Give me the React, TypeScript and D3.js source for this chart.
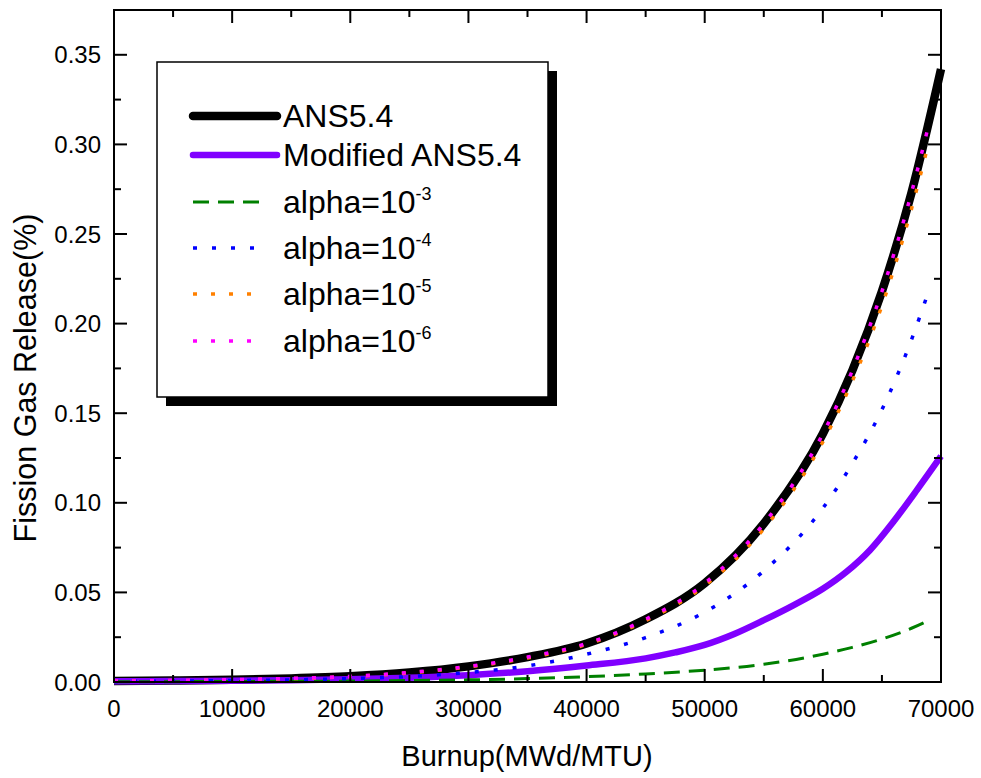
import React from "react";
import * as d3 from "d3";

// burnup grid (MWd/MTU)
const burnup = [0, 5000, 10000, 15000, 20000, 25000, 30000, 35000, 40000, 45000, 50000, 55000, 60000, 62500, 65000, 67500, 70000];
const burnupAlpha = [0, 5000, 10000, 15000, 20000, 25000, 30000, 35000, 40000, 45000, 50000, 55000, 60000, 62500, 65000, 67500, 69000];
const burnupMod = [0, 5000, 10000, 15000, 20000, 25000, 30000, 35000, 40000, 45000, 47500, 50000, 52500, 55000, 57500, 60000, 62000, 64000, 66000, 68000, 70000];

const ans54 = [0.0005, 0.0008, 0.0013, 0.002, 0.0032, 0.0053, 0.0087, 0.0139, 0.0215, 0.035, 0.0551, 0.0884, 0.1385, 0.1739, 0.218, 0.273, 0.342];
const modifiedAns = [0.0004, 0.0005, 0.0007, 0.001, 0.0015, 0.0024, 0.0038, 0.006, 0.0092, 0.0132, 0.0165, 0.0207, 0.0268, 0.0345, 0.0428, 0.052, 0.0615, 0.0737, 0.0897, 0.1075, 0.126];
const alpha3 = [0.0002, 0.0002, 0.0003, 0.0004, 0.0005, 0.0008, 0.0012, 0.0019, 0.003, 0.0045, 0.0066, 0.0099, 0.0155, 0.0193, 0.024, 0.03, 0.0345];
const alpha4 = [0.0003, 0.0005, 0.0008, 0.0012, 0.0019, 0.0031, 0.0053, 0.009, 0.0155, 0.0248, 0.039, 0.062, 0.097, 0.122, 0.152, 0.191, 0.219];
const alpha5 = [0.0005, 0.0008, 0.0012, 0.0019, 0.003, 0.0051, 0.0084, 0.0134, 0.021, 0.0342, 0.0537, 0.0855, 0.134, 0.168, 0.21, 0.264, 0.302];
const alpha6 = [0.0005, 0.0008, 0.0013, 0.002, 0.0032, 0.0053, 0.0087, 0.0139, 0.0215, 0.035, 0.0551, 0.0884, 0.1385, 0.1739, 0.218, 0.273, 0.312];

const xTicks = [0, 10000, 20000, 30000, 40000, 50000, 60000, 70000];
const yTicks = [0, 0.05, 0.1, 0.15, 0.2, 0.25, 0.3, 0.35];

const FONT = "'Liberation Sans', Arial, sans-serif";

const series = [
  { name: "ANS5.4", sup: "", xs: burnup, ys: ans54, color: "#000000", width: 8.5, dash: "", legLen: 84 },
  { name: "Modified ANS5.4", sup: "", xs: burnupMod, ys: modifiedAns, color: "#8000ff", width: 6.5, dash: "", legLen: 84 },
  { name: "alpha=10", sup: "-3", xs: burnupAlpha, ys: alpha3, color: "#008000", width: 3, dash: "16,9", legLen: 72 },
  { name: "alpha=10", sup: "-4", xs: burnupAlpha, ys: alpha4, color: "#0000ff", width: 3.5, dash: "4,15", legLen: 72 },
  { name: "alpha=10", sup: "-5", xs: burnupAlpha, ys: alpha5, color: "#ff8000", width: 3.5, dash: "4,14", legLen: 72 },
  { name: "alpha=10", sup: "-6", xs: burnupAlpha, ys: alpha6, color: "#ff00ff", width: 3.5, dash: "4,14", legLen: 72 },
];

export default function App() {
  const left = 114, right = 941, top = 10, bottom = 682;
  const x = d3.scaleLinear().domain([0, 70000]).range([left, right]);
  const y = d3.scaleLinear().domain([0, 0.375]).range([bottom, top]);

  const line = (xs: number[], ys: number[]) =>
    d3.line<number>()
      .x((_, i) => x(xs[i]))
      .y(d => y(d))
      .curve(d3.curveMonotoneX)(ys) || "";

  const xMinor = d3.range(5000, 70000, 10000);
  const yMinor = d3.range(0.025, 0.375, 0.05);

  const legRows = [116, 155, 202, 248, 294, 341];

  return (
    <svg width={981} height={778} style={{ position: "absolute", left: 0, top: 0, background: "#fff" }}>
      <rect width={981} height={778} fill="#fff" />
      {/* curves */}
      {series.map((s, i) => (
        <path key={i} d={line(s.xs, s.ys)} fill="none" stroke={s.color} strokeWidth={s.width}
          strokeDasharray={s.dash || undefined} strokeLinejoin="round" />
      ))}

      {/* frame */}
      <rect x={left} y={top} width={right - left} height={bottom - top} fill="none" stroke="#000" strokeWidth={2} />

      {/* x ticks (bottom and top, inward) */}
      {xTicks.map(t => (
        <g key={"xt" + t}>
          <line x1={x(t)} x2={x(t)} y1={bottom} y2={bottom - 13} stroke="#000" strokeWidth={2} />
          <line x1={x(t)} x2={x(t)} y1={top} y2={top + 13} stroke="#000" strokeWidth={2} />
          <text x={x(t)} y={717} textAnchor="middle" fontFamily={FONT} fontSize={24}>{t}</text>
        </g>
      ))}
      {xMinor.map(t => (
        <g key={"xm" + t}>
          <line x1={x(t)} x2={x(t)} y1={bottom} y2={bottom - 7} stroke="#000" strokeWidth={2} />
          <line x1={x(t)} x2={x(t)} y1={top} y2={top + 7} stroke="#000" strokeWidth={2} />
        </g>
      ))}

      {/* y ticks (left and right, inward) */}
      {yTicks.map(t => (
        <g key={"yt" + t}>
          <line x1={left} x2={left + 13} y1={y(t)} y2={y(t)} stroke="#000" strokeWidth={2} />
          <line x1={right} x2={right - 13} y1={y(t)} y2={y(t)} stroke="#000" strokeWidth={2} />
          <text x={101} y={y(t)} dy="0.36em" textAnchor="end" fontFamily={FONT} fontSize={24}>{t.toFixed(2)}</text>
        </g>
      ))}
      {yMinor.map(t => (
        <g key={"ym" + t}>
          <line x1={left} x2={left + 7} y1={y(t)} y2={y(t)} stroke="#000" strokeWidth={2} />
          <line x1={right} x2={right - 7} y1={y(t)} y2={y(t)} stroke="#000" strokeWidth={2} />
        </g>
      ))}

      {/* axis titles */}
      <text x={527} y={766} textAnchor="middle" fontFamily={FONT} fontSize={29}>Burnup(MWd/MTU)</text>
      <text transform="translate(36,378) rotate(-90)" textAnchor="middle" fontFamily={FONT} fontSize={30.5}>Fission Gas Release(%)</text>

      {/* legend */}
      <rect x={166} y={71} width={391} height={335} fill="#000" />
      <rect x={157} y={62} width={391} height={335} fill="#fff" stroke="#000" strokeWidth={1.5} />
      {series.map((s, i) => (
        <g key={"lg" + i}>
          <line x1={193} x2={193 + s.legLen} y1={legRows[i]} y2={legRows[i]} stroke={s.color}
            strokeWidth={s.width} strokeDasharray={s.dash || undefined} strokeLinecap={s.dash ? "butt" : "round"} />
          <text x={283} y={legRows[i] + 11} fontFamily={FONT} fontSize={32}>
            {s.name}
            {s.sup && <tspan dy={-13} fontSize={18}>{s.sup}</tspan>}
          </text>
        </g>
      ))}
    </svg>
  );
}
